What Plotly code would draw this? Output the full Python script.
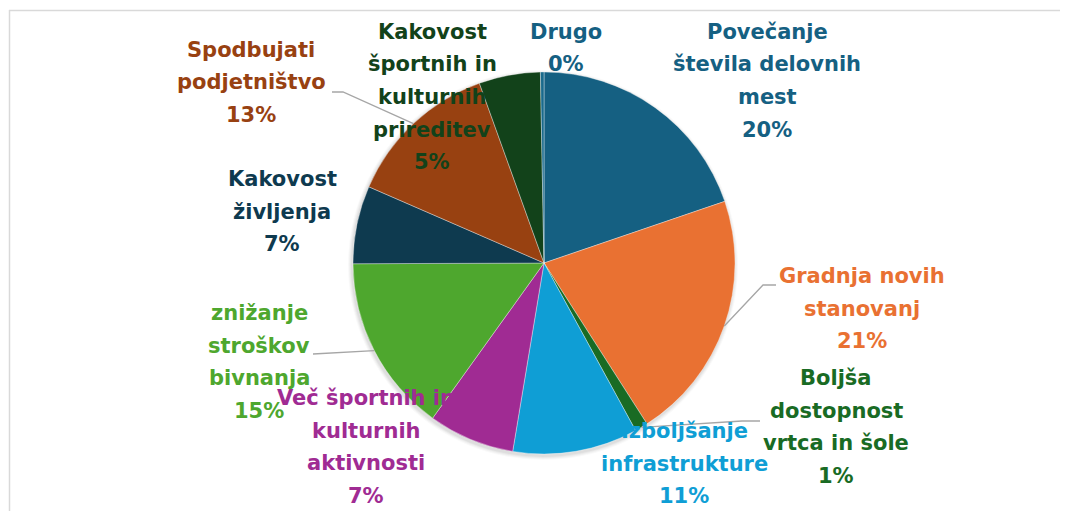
import math
import plotly.graph_objects as go

# ---------------- data ----------------
categories = [
    "Povečanje števila delovnih mest",
    "Gradnja novih stanovanj",
    "Boljša dostopnost vrtca in šole",
    "Izboljšanje infrastrukture",
    "Več športnih in kulturnih aktivnosti",
    "znižanje stroškov bivnanja",
    "Kakovost življenja",
    "Spodbujati podjetništvo",
    "Kakovost športnih in kulturnih prireditev",
    "Drugo",
]
shares = [19.8, 21.2, 1.1, 10.6, 7.3, 15.05, 6.6, 13.0, 5.2, 0.3]
label_lines = [
    ["Povečanje", "števila delovnih", "mest"],
    ["Gradnja novih", "stanovanj"],
    ["Boljša", "dostopnost", "vrtca in šole"],
    ["Izboljšanje", "infrastrukture"],
    ["Več športnih in", "kulturnih", "aktivnosti"],
    ["znižanje", "stroškov", "bivnanja"],
    ["Kakovost", "življenja"],
    ["Spodbujati", "podjetništvo"],
    ["Kakovost", "športnih in", "kulturnih", "prireditev"],
    ["Drugo"],
]
slice_colors = ["#156082", "#e97132", "#196b24", "#0f9ed5", "#a02b93",
                "#4ea72e", "#0e3a4f", "#984111", "#12421a", "#1a6a8c"]
text_colors = ["#156082", "#e97132", "#196b24", "#0f9ed5", "#a02b93",
               "#4ea72e", "#0e3a4f", "#984111", "#12421a", "#156082"]

# ---------------- layout constants (pixels, page coords incl. 8px body margin) ----------------
W, H = 1068, 511
OFF = 8
CX, CY, R = 544, 263, 191
label_pos = [(767, 32), (862, 276), (836, 378), (684, 431), (366, 398),
             (259, 313), (282, 179), (251, 50), (432, 32), (566, 32)]
LINE_H = 32.5
FONT = "DejaVu Sans"
FSIZE = 21


def px(x):
    return (x - OFF) / W


def py(y):
    return 1 - (y - OFF) / H


fig = go.Figure()
fig.add_trace(go.Pie(
    labels=categories,
    values=shares,
    sort=False,
    direction="clockwise",
    rotation=0,
    marker=dict(colors=slice_colors, line=dict(color="rgba(255,255,255,0.6)", width=0.6)),
    textinfo="none",
    hoverinfo="label+percent",
    showlegend=False,
    domain=dict(x=[px(CX - R), px(CX + R)], y=[py(CY + R), py(CY - R)]),
))

total = sum(shares)
annotations = []
for i, lines in enumerate(label_lines):
    pct = f"{round(shares[i] / total * 100):d}%"
    all_lines = lines + [pct]
    x0, y0 = label_pos[i]
    for j, t in enumerate(all_lines):
        annotations.append(dict(
            x=px(x0), y=py(y0 + j * LINE_H), xref="paper", yref="paper",
            text=f"<b>{t}</b>", showarrow=False, xanchor="center", yanchor="middle",
            font=dict(family=FONT, size=FSIZE, color=text_colors[i]),
        ))

# slice mid-angle edge points computed from the data
cum = 0
mid_pts = []
for v in shares:
    a = (cum + v / 2) / total * 2 * math.pi
    mid_pts.append((CX + R * math.sin(a), CY - R * math.cos(a)))
    cum += v

leaders = {7: [(332, 92), (343, 92)],
           1: [(776, 285), (763, 285)],
           2: [(760, 421), (742, 421)],
           5: [(313, 354)]}
shapes = []
# soft shadow behind pie
for k, a in enumerate([0.025, 0.03, 0.035, 0.04]):
    rr = R + 4 - k
    shapes.append(dict(type="circle", xref="paper", yref="paper", layer="below",
                       x0=px(CX - rr - 1), x1=px(CX + rr - 1), y0=py(CY + rr + 2), y1=py(CY - rr + 2),
                       fillcolor=f"rgba(0,0,0,{a})", line=dict(width=0)))
for i, pts in leaders.items():
    all_pts = pts + [mid_pts[i]]
    path = "M " + " L ".join(f"{px(x)},{py(y)}" for x, y in all_pts)
    shapes.append(dict(type="path", path=path, xref="paper", yref="paper",
                       line=dict(color="#a6a6a6", width=1.3)))

# chart frame
shapes.append(dict(type="line", xref="paper", yref="paper", x0=px(9), x1=1, y0=py(10.5), y1=py(10.5),
                   line=dict(color="#d9d9d9", width=1.5)))
shapes.append(dict(type="line", xref="paper", yref="paper", x0=px(9.5), x1=px(9.5), y0=0, y1=py(10),
                   line=dict(color="#d9d9d9", width=1.5)))

fig.update_layout(
    width=W, height=H,
    margin=dict(l=0, r=0, t=0, b=0),
    paper_bgcolor="white", plot_bgcolor="white",
    annotations=annotations, shapes=shapes,
)
fig.write_html("out.html")
